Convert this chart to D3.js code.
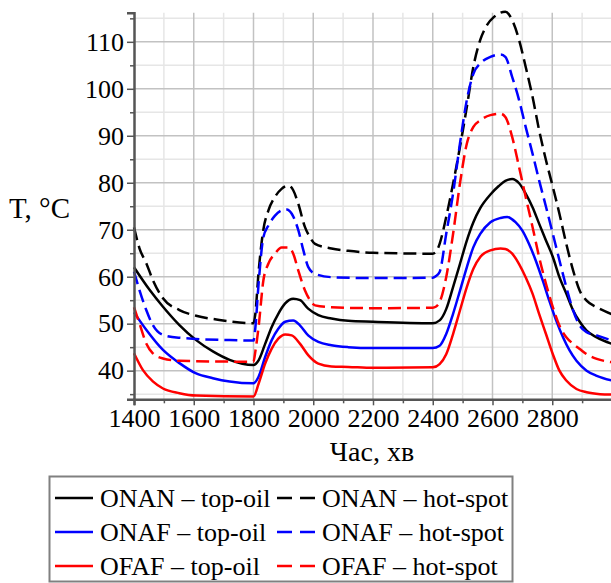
<!DOCTYPE html>
<html>
<head>
<meta charset="utf-8">
<script src="https://cdn.jsdelivr.net/npm/d3@7"></script>
<style>
  body { margin: 0; background: #fff; }
  svg text { font-family: "Liberation Serif", "Times New Roman", serif; fill: #000; }
</style>
</head>
<body>
<div id="chart"></div>
<script>
// time in minutes, temperature in deg C
var onanTop = [[1400,62.0],[1452,57.2],[1497,53.6],[1552,49.7],[1608,46.5],[1664,44.1],[1720,42.3],[1800,41.2],
  [1817,42.2],[1839,45.7],[1861,49.3],[1883,52.1],[1906,54.3],[1933,55.3],[1956,55.0],[1983,53.2],[2017,51.8],
  [2061,51.1],[2117,50.6],[2200,50.4],[2400,50.1],[2423,50.7],[2445,53.1],[2468,57.8],[2491,62.7],[2514,67.7],
  [2536,71.6],[2559,74.6],[2593,77.5],[2621,79.3],[2643,80.4],[2666,80.8],[2689,79.9],[2711,77.7],[2734,74.8],
  [2756,71.3],[2779,67.7],[2802,64.2],[2824,59.9],[2847,56.4],[2870,52.8],[2892,50.4],[2915,48.5],[2949,47.1],[3000,45.7]];

var onanHot = [[1400,70.5],[1418,66.1],[1441,62.9],[1463,59.3],[1497,55.4],[1552,52.9],[1608,51.7],[1686,50.8],[1800,50.1],
  [1806,52.0],[1817,61.0],[1833,70.0],[1850,74.1],[1872,77.0],[1894,78.7],[1917,79.4],[1933,78.4],[1950,75.5],
  [1972,70.6],[1989,68.4],[2006,67.0],[2061,66.0],[2117,65.5],[2200,65.1],[2400,64.9],[2410,65.2],[2423,67.0],
  [2445,72.7],[2468,79.8],[2491,87.6],[2514,96.1],[2536,104.7],[2559,110.4],[2582,113.6],[2605,115.3],[2643,116.4],
  [2666,114.6],[2689,110.4],[2711,104.7],[2734,98.3],[2756,91.2],[2779,84.8],[2802,79.1],[2824,73.4],[2847,67.0],
  [2870,61.3],[2892,57.0],[2915,54.9],[2949,53.5],[3000,52.0]];

var onafTop = [[1400,52.4],[1441,48.7],[1497,44.4],[1552,41.6],[1608,39.4],[1664,38.4],[1720,37.7],[1800,37.3],
  [1817,38.7],[1839,42.9],[1861,46.5],[1883,48.9],[1906,50.4],[1933,50.7],[1956,49.6],[1983,47.5],[2017,46.1],
  [2061,45.4],[2117,45.0],[2200,44.8],[2400,44.8],[2423,45.3],[2445,47.8],[2468,52.1],[2491,57.0],[2514,62.0],
  [2536,66.3],[2559,69.1],[2593,71.6],[2627,72.5],[2649,72.7],[2677,71.6],[2700,69.8],[2722,67.0],[2745,63.4],
  [2768,59.2],[2790,54.9],[2813,50.7],[2836,47.1],[2858,44.3],[2881,42.1],[2915,40.0],[2949,38.9],[3000,37.9]];

var onafHot = [[1400,61.1],[1418,57.2],[1441,52.9],[1463,49.7],[1497,47.6],[1552,47.0],[1720,46.5],[1800,46.4],
  [1806,49.0],[1817,58.5],[1833,68.4],[1850,70.9],[1872,73.0],[1894,74.1],[1911,74.3],[1928,73.4],[1950,69.9],
  [1967,65.6],[1983,62.1],[2006,60.6],[2061,59.9],[2200,59.7],[2400,59.8],[2410,60.1],[2423,61.0],[2445,69.1],
  [2468,77.7],[2491,88.3],[2514,97.6],[2536,103.2],[2559,105.4],[2593,106.8],[2627,107.3],[2643,106.8],[2666,102.5],
  [2689,97.6],[2711,91.9],[2734,86.2],[2756,80.5],[2779,74.9],[2802,69.1],[2824,63.5],[2847,57.8],[2870,52.8],
  [2892,49.6],[2915,48.2],[2949,47.5],[3000,46.4]];

var ofafTop = [[1400,43.7],[1430,40.1],[1463,37.7],[1497,36.2],[1552,35.2],[1608,34.7],[1800,34.5],
  [1817,37.2],[1839,41.5],[1861,44.7],[1883,46.8],[1906,47.7],[1928,47.5],[1956,45.7],[1983,43.3],[2017,41.5],
  [2061,40.9],[2117,40.8],[2200,40.6],[2400,40.7],[2423,41.4],[2445,43.5],[2468,47.8],[2491,52.8],[2514,57.8],
  [2536,61.7],[2559,64.2],[2593,65.6],[2627,66.0],[2643,65.9],[2666,64.9],[2689,62.7],[2711,59.9],[2734,56.4],
  [2756,52.1],[2779,47.8],[2802,43.5],[2824,40.0],[2847,37.9],[2881,36.1],[2915,35.4],[2960,35.0],[3000,34.9]];

var ofafHot = [[1400,53.5],[1418,50.1],[1441,45.8],[1463,43.7],[1497,42.6],[1552,42.1],[1800,41.9],
  [1806,44.0],[1817,49.3],[1833,59.2],[1850,62.8],[1872,64.9],[1894,66.2],[1917,66.2],[1933,64.9],[1950,61.3],
  [1972,57.1],[1989,55.0],[2006,53.9],[2061,53.5],[2200,53.3],[2400,53.4],[2410,53.6],[2423,54.6],[2445,59.9],
  [2468,69.1],[2491,79.8],[2514,88.3],[2536,91.9],[2559,93.3],[2593,94.4],[2627,94.7],[2643,94.0],[2666,89.7],
  [2689,83.3],[2711,77.0],[2734,70.6],[2756,64.2],[2779,58.5],[2802,53.5],[2824,49.6],[2847,47.1],[2870,45.7],
  [2892,44.6],[2915,43.5],[2949,42.5],[3000,41.8]];

var seriesNames = ["ONAN \u2013 top-oil", "ONAN \u2013 hot-spot", "ONAF \u2013 top-oil", "ONAF \u2013 hot-spot",
                   "OFAF \u2013 top-oil", "OFAF \u2013 hot-spot"];
var seriesColors = ["#000000", "#000000", "#0000ff", "#0000ff", "#ff0000", "#ff0000"];
var seriesDashed = [false, true, false, true, false, true];

var xMajorTicks = [1400, 1600, 1800, 2000, 2200, 2400, 2600, 2800];
var xMinorTicks = [1500, 1700, 1900, 2100, 2300, 2500, 2700, 2900];
var yMajorTicks = [40, 50, 60, 70, 80, 90, 100, 110];
var yMinorTicks = [35, 45, 55, 65, 75, 85, 95, 105, 115];

var xLabel = "Час, хв";
var yLabel = "T, \u00B0C";

function makeChart(){
  var W = 611, H = 583;
  var left = 134, top = 12.7, bottom = 399.3, right = 612;

  var x = d3.scaleLinear().domain([1400, 3000]).range([left, right]);
  var y = d3.scaleLinear().domain([33.9, 116.2]).range([bottom, top]);

  var svg = d3.select("#chart").append("svg")
      .attr("width", W)
      .attr("height", H);

  // grid, minor first then major
  var grid = svg.append("g");
  grid.selectAll("line.vmin").data(xMinorTicks).enter().append("line")
      .attr("x1", function(d){return x(d);}).attr("x2", function(d){return x(d);})
      .attr("y1", top).attr("y2", bottom)
      .attr("stroke", "#e6e6e6").attr("stroke-width", 1.5);
  grid.selectAll("line.hmin").data(yMinorTicks).enter().append("line")
      .attr("x1", left).attr("x2", right)
      .attr("y1", function(d){return y(d);}).attr("y2", function(d){return y(d);})
      .attr("stroke", "#e6e6e6").attr("stroke-width", 1.5);
  grid.selectAll("line.vmaj").data(xMajorTicks.slice(1)).enter().append("line")
      .attr("x1", function(d){return x(d);}).attr("x2", function(d){return x(d);})
      .attr("y1", top).attr("y2", bottom)
      .attr("stroke", "#c2c2c2").attr("stroke-width", 1.5);
  grid.selectAll("line.hmaj").data(yMajorTicks).enter().append("line")
      .attr("x1", left).attr("x2", right)
      .attr("y1", function(d){return y(d);}).attr("y2", function(d){return y(d);})
      .attr("stroke", "#c2c2c2").attr("stroke-width", 1.5);

  // curves
  var all = [onanTop, onanHot, onafTop, onafHot, ofafTop, ofafHot];
  var line = d3.line()
      .x(function(d){return x(d[0]);})
      .y(function(d){return y(d[1]);})
      .curve(d3.curveMonotoneX);

  svg.append("g").selectAll("path")
      .data(all)
    .enter().append("path")
      .attr("d", function(d){return line(d);})
      .attr("fill", "none")
      .attr("stroke", function(d, i){return seriesColors[i];})
      .attr("stroke-width", 2.5)
      .attr("stroke-dasharray", function(d, i){return seriesDashed[i] ? "13,6" : null;});

  // axes
  var xAxis = d3.axisBottom(x).tickValues(xMajorTicks).tickSize(6).tickPadding(3).tickFormat(d3.format("d"));
  var xAxisMinor = d3.axisBottom(x).tickValues(xMinorTicks).tickSize(4).tickFormat("");
  var yAxis = d3.axisLeft(y).tickValues(yMajorTicks).tickSize(7).tickPadding(3).tickFormat(d3.format("d"));
  var yAxisMinor = d3.axisLeft(y).tickValues(yMinorTicks).tickSize(4).tickFormat("");

  var gx = svg.append("g").attr("transform", "translate(0," + bottom + ")").call(xAxis);
  svg.append("g").attr("transform", "translate(0," + bottom + ")").call(xAxisMinor).select(".domain").remove();
  var gy = svg.append("g").attr("transform", "translate(" + left + ",0)").call(yAxis);
  svg.append("g").attr("transform", "translate(" + left + ",0)").call(yAxisMinor).select(".domain").remove();

  svg.selectAll(".domain").attr("stroke", "#555").attr("stroke-width", 2.5);
  svg.selectAll(".tick line").attr("stroke", "#555").attr("stroke-width", 1.5);
  gx.selectAll(".tick text").attr("font-size", 26).attr("font-family", "Liberation Serif, serif").attr("fill", "#000");
  gy.selectAll(".tick text").attr("font-size", 26).attr("font-family", "Liberation Serif, serif").attr("fill", "#000");

  svg.append("text")
      .attr("x", 372).attr("y", 461)
      .attr("text-anchor", "middle")
      .attr("font-size", 28)
      .text(xLabel);
  svg.append("text")
      .attr("x", 9).attr("y", 218)
      .attr("font-size", 29)
      .text(yLabel);

  // legend
  var lg = svg.append("g");
  lg.append("rect")
      .attr("x", 49.5).attr("y", 476.5)
      .attr("width", 463).attr("height", 105)
      .attr("fill", "#fff")
      .attr("stroke", "#808080").attr("stroke-width", 2);

  var item = lg.selectAll("g.item")
      .data(seriesNames)
    .enter().append("g")
      .attr("transform", function(d, i){
        var col = i % 2, row = Math.floor(i / 2);
        return "translate(" + (col ? 277 : 55) + "," + (498 + row * 34) + ")";
      });
  item.append("line")
      .attr("x1", 0).attr("x2", 38)
      .attr("y1", 0).attr("y2", 0)
      .attr("stroke", function(d, i){return seriesColors[i];})
      .attr("stroke-width", 2.5)
      .attr("stroke-dasharray", function(d, i){return seriesDashed[i] ? "15,8" : null;});
  item.append("text")
      .attr("x", 45).attr("y", 0)
      .attr("dy", "0.33em")
      .attr("font-size", 26)
      .text(function(d){return d;});
}

makeChart();
</script>
</body>
</html>
